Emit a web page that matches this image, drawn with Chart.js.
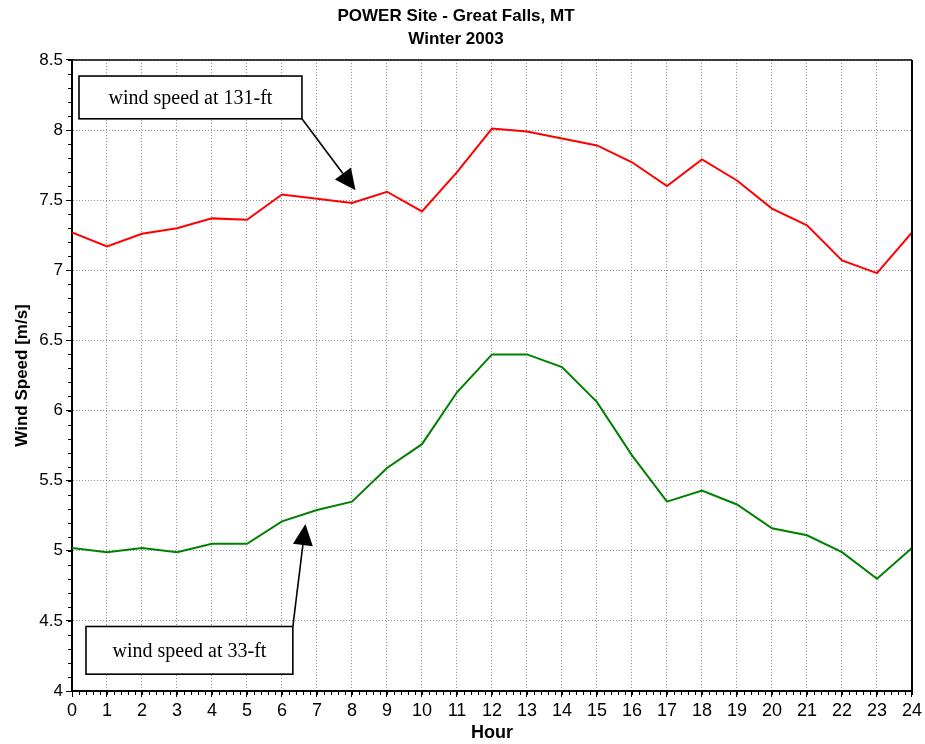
<!DOCTYPE html>
<html>
<head>
<meta charset="utf-8">
<script src="https://cdn.jsdelivr.net/npm/chart.js@4/dist/chart.umd.min.js"></script>
<style>
  html, body { margin: 0; padding: 0; background: #fff; }
  #wrap { width: 925px; height: 744px; }
</style>
</head>
<body>
<div id="wrap"><canvas id="windChart" width="925" height="744"></canvas></div>
<script>
// hours of the day
const hours = [0, 1, 2, 3, 4, 5, 6, 7, 8, 9, 10, 11, 12, 13, 14, 15, 16, 17, 18, 19, 20, 21, 22, 23, 24];
// wind speed at 131-ft (m/s)
const speed131 = [7.27, 7.17, 7.26, 7.30, 7.37, 7.36, 7.54, 7.51, 7.48, 7.56, 7.42, 7.70, 8.01,
  7.99, 7.94, 7.89, 7.77, 7.60, 7.79, 7.64, 7.44, 7.32, 7.07, 6.98, 7.27];
// wind speed at 33-ft (m/s)
const speed33 = [5.02, 4.99, 5.02, 4.99, 5.05, 5.05, 5.21, 5.29, 5.35, 5.59, 5.76, 6.13, 6.40,
  6.40, 6.31, 6.06, 5.68, 5.35, 5.43, 5.33, 5.16, 5.11, 4.99, 4.80, 5.02];
const titleLines = ['POWER Site - Great Falls, MT', 'Winter 2003'];
const callouts = [
  // box in data units (hour / m/s), arrow tip in data units
  { text: 'wind speed at 131-ft', box: [0.2, 8.385, 6.57, 8.08], tip: [8.1, 7.57] },
  { text: 'wind speed at 33-ft', box: [0.4, 4.46, 6.31, 4.12], tip: [6.67, 5.19] }
];

const SANS = "'Liberation Sans', Arial, sans-serif";

function toPoints(ys) {
  return hours.map((h, i) => ({ x: h, y: ys[i] }));
}

// frame, minor ticks and call-out boxes
const extras = {
  id: 'extras',
  afterDatasetsDraw(chart) {
    const { ctx, chartArea: a, scales: { x, y } } = chart;
    ctx.save();
    ctx.strokeStyle = '#000';
    ctx.lineWidth = 1.5;
    ctx.beginPath();
    ctx.moveTo(a.left, a.top);
    ctx.lineTo(a.right, a.top);
    ctx.stroke();
    ctx.lineWidth = 2;
    ctx.beginPath();
    ctx.moveTo(a.right, a.top);
    ctx.lineTo(a.right, a.bottom);
    ctx.stroke();

    // minor ticks
    ctx.lineWidth = 1;
    ctx.beginPath();
    for (let v = 4; v <= 8.5001; v += 0.1) {
      const py = Math.round(y.getPixelForValue(v)) + 0.5;
      ctx.moveTo(a.left - 4, py);
      ctx.lineTo(a.left, py);
    }
    for (let h = 0; h <= 24.001; h += 0.2) {
      const px = Math.round(x.getPixelForValue(h)) + 0.5;
      ctx.moveTo(px, a.bottom);
      ctx.lineTo(px, a.bottom + 4);
    }
    ctx.stroke();

    // call-outs
    callouts.forEach(c => {
      const l = x.getPixelForValue(c.box[0]);
      const t = y.getPixelForValue(c.box[1]);
      const r = x.getPixelForValue(c.box[2]);
      const b = y.getPixelForValue(c.box[3]);
      const tx = x.getPixelForValue(c.tip[0]);
      const ty = y.getPixelForValue(c.tip[1]);
      ctx.fillStyle = '#fff';
      ctx.fillRect(l, t, r - l, b - t);
      ctx.strokeStyle = '#000';
      ctx.lineWidth = 1.6;
      ctx.strokeRect(l, t, r - l, b - t);
      ctx.fillStyle = '#000';
      ctx.font = "20px 'Liberation Serif', 'Times New Roman', serif";
      ctx.textAlign = 'center';
      ctx.textBaseline = 'middle';
      ctx.fillText(c.text, (l + r) / 2, (t + b) / 2 + 1);

      // arrow from the box corner facing the tip
      const sx = r;
      const sy = ty > b ? b : t;
      const ang = Math.atan2(ty - sy, tx - sx);
      const headLen = 21, headW = 10;
      const bx = tx - headLen * Math.cos(ang);
      const by = ty - headLen * Math.sin(ang);
      ctx.lineWidth = 1.6;
      ctx.beginPath();
      ctx.moveTo(sx, sy);
      ctx.lineTo(bx, by);
      ctx.stroke();
      ctx.beginPath();
      ctx.moveTo(tx, ty);
      ctx.lineTo(bx + headW * Math.sin(ang), by - headW * Math.cos(ang));
      ctx.lineTo(bx - headW * Math.sin(ang), by + headW * Math.cos(ang));
      ctx.closePath();
      ctx.fill();
    });
    ctx.restore();
  }
};

const gridOpts = {
  color: '#8c8c8c',
  lineWidth: 1,
  tickColor: '#000',
  tickLength: 6
};

const ctx = document.getElementById('windChart').getContext('2d');
const windChart = new Chart(ctx, {
  type: 'line',
  data: {
    datasets: [
      {
        label: 'wind speed at 131-ft',
        data: toPoints(speed131),
        borderColor: '#ff0000',
        borderWidth: 2,
        pointRadius: 0,
        tension: 0,
        fill: false
      },
      {
        label: 'wind speed at 33-ft',
        data: toPoints(speed33),
        borderColor: '#008000',
        borderWidth: 2,
        pointRadius: 0,
        tension: 0,
        fill: false
      }
    ]
  },
  options: {
    responsive: false,
    animation: false,
    layout: { padding: { top: 0, right: 13, left: 0, bottom: 0 } },
    plugins: {
      legend: { display: false },
      tooltip: { enabled: false },
      title: {
        display: true,
        text: titleLines,
        color: '#000',
        font: { family: SANS, size: 17, weight: 'bold', lineHeight: 1.35 },
        padding: { top: 5, bottom: 9 }
      }
    },
    scales: {
      x: {
        type: 'linear',
        min: 0,
        max: 24,
        ticks: {
          stepSize: 1,
          color: '#000',
          padding: 3,
          font: { family: SANS, size: 18 }
        },
        grid: gridOpts,
        border: { display: true, color: '#000', width: 2, dash: [1, 2] },
        title: {
          display: true,
          text: 'Hour',
          color: '#000',
          font: { family: SANS, size: 18, weight: 'bold', lineHeight: 1.2 },
          padding: { top: 0, bottom: 0 }
        },
        afterFit(scale) { scale.height = 53; }
      },
      y: {
        min: 4,
        max: 8.5,
        ticks: {
          stepSize: 0.5,
          color: '#000',
          padding: 3,
          font: { family: SANS, size: 17 },
          callback: v => String(v)
        },
        grid: gridOpts,
        border: { display: true, color: '#000', width: 2, dash: [1, 2] },
        title: {
          display: true,
          text: 'Wind Speed [m/s]',
          color: '#000',
          font: { family: SANS, size: 17, weight: 'bold', lineHeight: 1.2 },
          padding: { top: 12, bottom: 0 }
        },
        afterFit(scale) { scale.width = 72; }
      }
    }
  },
  plugins: [extras]
});
</script>
</body>
</html>
